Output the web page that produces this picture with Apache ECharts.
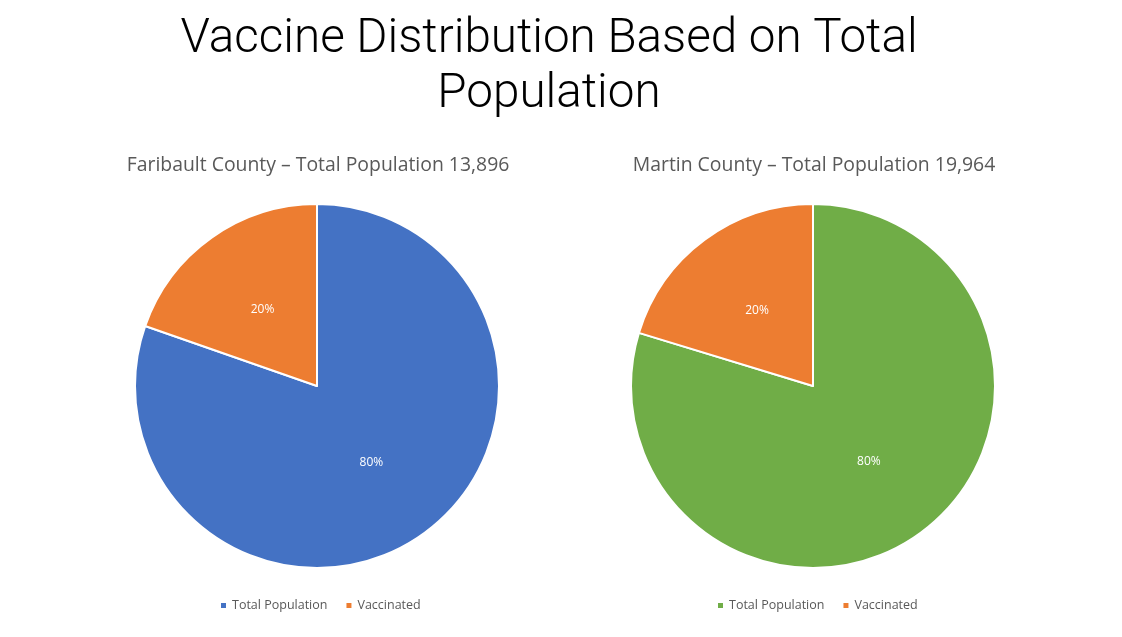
<!DOCTYPE html>
<html>
<head>
<meta charset="utf-8">
<script src="https://cdn.jsdelivr.net/npm/echarts@6/dist/echarts.min.js"></script>
<style>
  html, body { margin: 0; padding: 0; background: #fff; }
  #main { width: 1122px; height: 637px; }
</style>
</head>
<body>
<div id="main"></div>
<script>
var myChart = echarts.init(document.getElementById('main'));

const categories = ['Total Population', 'Vaccinated'];
const faribault_values = [13896, 3400];
const martin_values = [19964, 5080];
const faribault_colors = ['#4472C4', '#ED7D31'];
const martin_colors = ['#70AD47', '#ED7D31'];

function pieData(values, colors) {
	return categories.map(function (name, i) {
		return { name: name, value: values[i], itemStyle: { color: colors[i] } };
	});
}

function legendData(colors) {
	return categories.map(function (name, i) {
		return { name: name, itemStyle: { color: colors[i] } };
	});
}

var pieBase = {
	type: 'pie',
	radius: 182,
	startAngle: 90,
	clockwise: true,
	silent: true,
	itemStyle: {
		borderColor: '#fff',
		borderWidth: 2
	},
	label: {
		show: true,
		position: 'inside',
		formatter: function (p) { return Math.round(p.percent) + '%'; },
		color: '#fff',
		fontSize: 12,
		fontFamily: 'Open Sans'
	},
	labelLine: { show: false }
};

var subStyle = {
	fontFamily: 'Open Sans',
	fontWeight: 'normal',
	fontSize: 19.4,
	color: '#595959'
};

var legendBase = {
	top: 594,
	icon: 'rect',
	itemWidth: 7,
	itemHeight: 7,
	itemGap: 17,
	selectedMode: false,
	textStyle: { color: '#595959', fontSize: 12.5, fontFamily: 'Open Sans' }
};

myChart.setOption({
	backgroundColor: '#fff',
	animation: false,
	title: [{
		text: 'Vaccine Distribution Based on Total\nPopulation',
		left: 544,
		top: 8,
		textAlign: 'center',
		textStyle: {
			fontFamily: 'Roboto',
			fontWeight: 300,
			fontSize: 47.6,
			lineHeight: 55,
			color: '#000'
		}
	}, {
		text: 'Faribault County \u2013 Total Population 13,896',
		left: 313,
		top: 151,
		textAlign: 'center',
		textStyle: subStyle
	}, {
		text: 'Martin County \u2013 Total Population 19,964',
		left: 809,
		top: 151,
		textAlign: 'center',
		textStyle: subStyle
	}],
	legend: [
		Object.assign({}, legendBase, { left: 214, data: legendData(faribault_colors) }),
		Object.assign({}, legendBase, { left: 711, data: legendData(martin_colors) })
	],
	series: [
		Object.assign({}, pieBase, {
			name: 'Faribault County',
			center: [317, 386],
			data: pieData(faribault_values, faribault_colors)
		}),
		Object.assign({}, pieBase, {
			name: 'Martin County',
			center: [813, 386],
			data: pieData(martin_values, martin_colors)
		})
	]
});
</script>
</body>
</html>
